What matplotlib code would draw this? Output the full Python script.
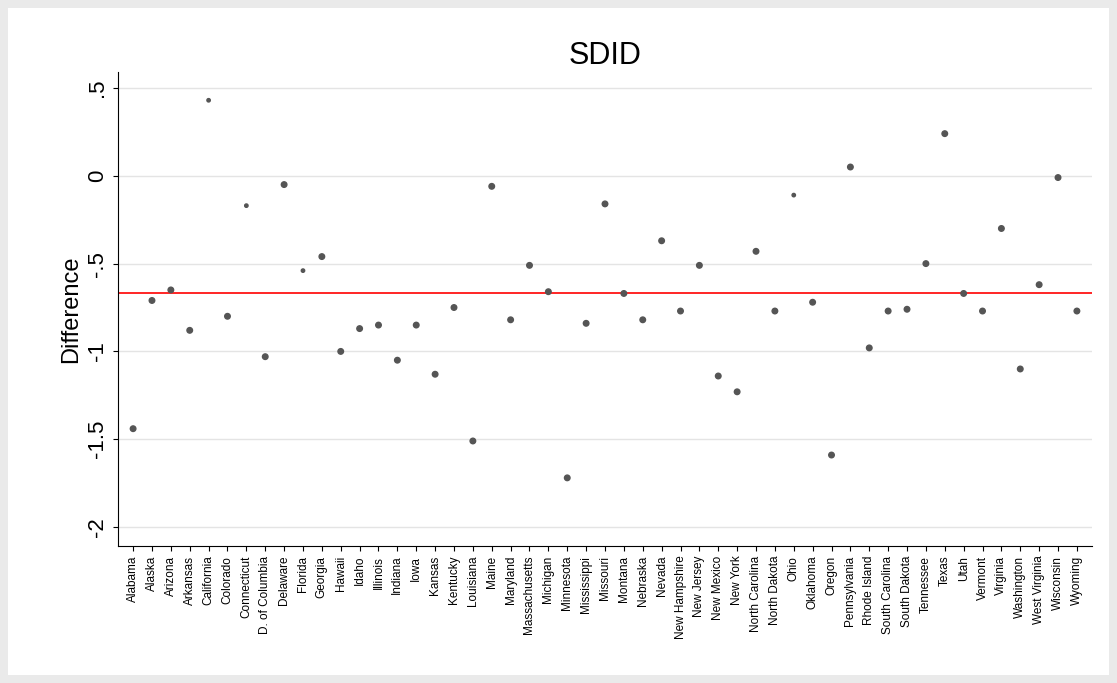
import matplotlib.pyplot as plt
from matplotlib.patches import Rectangle

plt.rcParams['font.family'] = ['Liberation Sans', 'DejaVu Sans']

states = ["Alabama", "Alaska", "Arizona", "Arkansas", "California", "Colorado",
          "Connecticut", "D. of Columbia", "Delaware", "Florida", "Georgia", "Hawaii",
          "Idaho", "Illinois", "Indiana", "Iowa", "Kansas", "Kentucky", "Louisiana",
          "Maine", "Maryland", "Massachusetts", "Michigan", "Minnesota", "Mississippi",
          "Missouri", "Montana", "Nebraska", "Nevada", "New Hampshire", "New Jersey",
          "New Mexico", "New York", "North Carolina", "North Dakota", "Ohio", "Oklahoma",
          "Oregon", "Pennsylvania", "Rhode Island", "South Carolina", "South Dakota",
          "Tennessee", "Texas", "Utah", "Vermont", "Virginia", "Washington",
          "West Virginia", "Wisconsin", "Wyoming"]
diff = [-1.44, -0.71, -0.65, -0.88, 0.43, -0.80, -0.17, -1.03, -0.05, -0.54, -0.46,
        -1.00, -0.87, -0.85, -1.05, -0.85, -1.13, -0.75, -1.51, -0.06, -0.82, -0.51,
        -0.66, -1.72, -0.84, -0.16, -0.67, -0.82, -0.37, -0.77, -0.51, -1.14, -1.23,
        -0.43, -0.77, -0.11, -0.72, -1.59, 0.05, -0.98, -0.77, -0.76, -0.50, 0.24,
        -0.67, -0.77, -0.30, -1.10, -0.62, -0.01, -0.77]
small = {"California", "Connecticut", "Florida", "Ohio"}
sizes = [6 if s in small else 16 for s in states]
avg = -0.67

fig = plt.figure(figsize=(11.17, 6.83), dpi=100)
fig.patch.set_facecolor("#eaeaea")
fig.patches.append(Rectangle((8 / 1117, 8 / 683), 1 - 16 / 1117, 1 - 16 / 683,
                             transform=fig.transFigure, facecolor="white",
                             edgecolor="none", zorder=-10))
ax = fig.add_axes([118 / 1117, 1 - 546 / 683, (1092 - 118) / 1117, (546 - 72) / 683])
ax.set_facecolor("none")

x = list(range(len(states)))
ax.scatter(x, diff, s=sizes, color="#555555", zorder=3)
ax.axhline(avg, color="red", lw=1.2, zorder=2)

ax.set_xlim(-0.8, len(states) - 0.2)
ax.set_ylim(-2.108, 0.591)
ax.set_yticks([0.5, 0, -0.5, -1, -1.5, -2])
ax.set_yticklabels([".5", "0", "-.5", "-1", "-1.5", "-2"], rotation=90, va="center", fontsize=16)
ax.set_xticks(x)
ax.set_xticklabels(states, rotation=90, fontsize=8.5)
ax.grid(axis="y", color="#e4e4e4", lw=1)
ax.set_axisbelow(True)
for side in ["top", "right"]:
    ax.spines[side].set_visible(False)
ax.set_ylabel("Difference", fontsize=17)
ax.set_title("SDID", fontsize=22, pad=6)

fig.savefig("out.png", dpi=100)
